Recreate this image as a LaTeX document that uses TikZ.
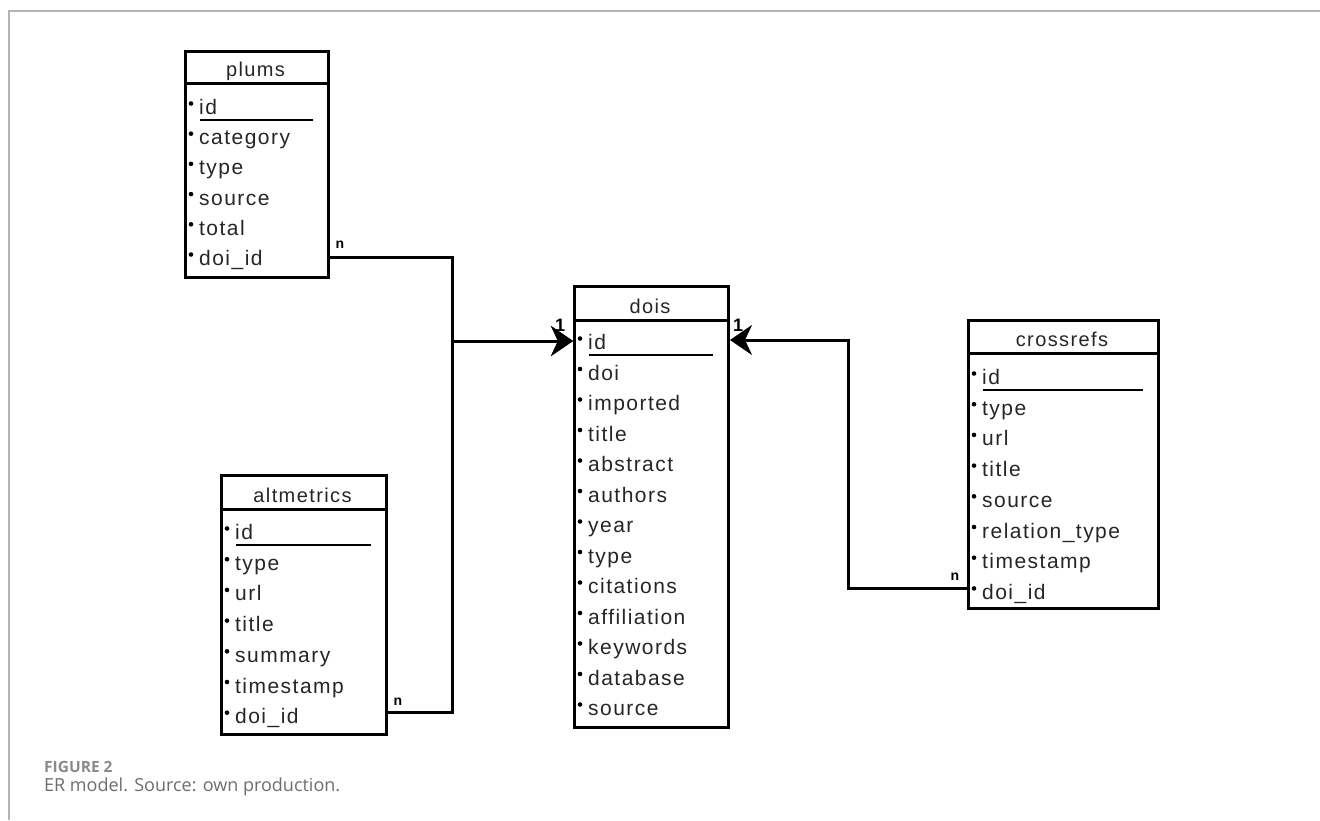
\documentclass[tikz,border=0pt]{standalone}
\usepackage{fontspec}
\setmainfont{Liberation Sans}
\newfontfamily\erfont[LetterSpace=7]{Liberation Sans}
\newfontfamily\capfont{Open Sans}
\usetikzlibrary{arrows.meta}
\definecolor{framegray}{HTML}{B4B4B4}
\definecolor{capgray}{HTML}{6E6E6E}
\definecolor{figgray}{HTML}{8A8A8A}

% #1 name, #2 left, #3 top, #4 right, #5 bottom, #6 header bottom, #7 title,
% #8 first row y, #9 row step ; rows given by \errows
\newcommand\ertable[9]{%
  \node[tbox, anchor=north west, minimum width={#4-#2}, minimum height={#5-#3}] (#1) at (#2,#3) {};
  \draw[tline] (#2,#6) -- (#4,#6);
  \node[ttitle, anchor=base] (#1-title) at ({(#2+#4)/2},{#6-7}) {#7};
  \foreach \r [count=\i] in \errows {%
    \coordinate (#1-\i) at (#2,{#8+(\i-1)*#9});
    \fill ([xshift=7,yshift=3.5]#1-\i) circle (2.3);
    \node[trow, anchor=base west] (#1-t\i) at ([xshift=15,yshift=-7.5]#1-\i) {\r};
  }
  \draw[line width=2] ([xshift=16,yshift=-12.5]#1-1) -- ({#4-14},{#8+12.5});
}

\begin{document}
\begin{tikzpicture}[x=1pt,y=-1pt,
  tbox/.style={draw, line width=3, inner sep=0, fill=white},
  tline/.style={line width=3},
  ttitle/.style={font=\erfont\fontsize{20}{22}\selectfont, text=black!85, inner sep=0},
  trow/.style={font=\erfont\fontsize{21}{23}\selectfont, text=black!85, inner sep=0},
  conn/.style={line width=3},
  tip/.style={-{Stealth[length=22pt, width=30pt, inset=7pt]}},
  card/.style={font=\fontsize{14}{16}\selectfont\bfseries, inner sep=0},
  one/.style={font=\fontsize{18}{20}\selectfont\bfseries, inner sep=0}]
\useasboundingbox (0,0) rectangle (1320,820);
\fill[white] (0,0) rectangle (1320,820);
\draw[framegray, line width=1.5] (9,820) -- (9,11) -- (1320,11);

\def\errows{id,category,type,source,total,doi\_id}
\ertable{plums}{184}{50}{327}{276}{83}{plums}{107}{30.2}
\def\errows{id,doi,imported,title,abstract,authors,year,type,citations,affiliation,keywords,database,source}
\ertable{dois}{573}{285}{727}{726}{320}{dois}{342}{30.5}
\def\errows{id,type,url,title,source,relation\_type,timestamp,doi\_id}
\ertable{crossrefs}{967}{319}{1157}{607}{353}{crossrefs}{377}{30.7}
\def\errows{id,type,url,title,summary,timestamp,doi\_id}
\ertable{altmetrics}{220}{474}{385}{733}{509}{altmetrics}{532}{30.7}

% cardinality labels
\node[card] (n1) at (340,245) {n};
\node[card] (n2) at (398,702) {n};
\node[card] (n3) at (955,577) {n};
\node[one] (o1) at (560,325) {1};
\node[one] (o2) at (738,325) {1};

% connectors
\coordinate (j) at (452,341);
\coordinate (k) at (848,340);
\draw[conn, tip] ([yshift=1]plums.east |- plums-6) -| (j) -- (dois.west |- j);
\draw[conn, tip] ([yshift=4]altmetrics.east |- altmetrics-7) -| (j) -- (dois.west |- j);
\draw[conn, tip] ([yshift=3]crossrefs.west |- crossrefs-8) -| (k) -- (dois.east |- k);

% caption
\node[anchor=west, inner sep=0, text=figgray, font=\capfont\fontsize{15.5}{17}\selectfont\bfseries] (figno) at (44,767) {FIGURE 2};
\node[anchor=west, inner sep=0, text=capgray, font=\capfont\fontsize{18}{20}\selectfont] (cap) at (44,787) {ER model. Source: own production.};
\end{tikzpicture}
\end{document}
